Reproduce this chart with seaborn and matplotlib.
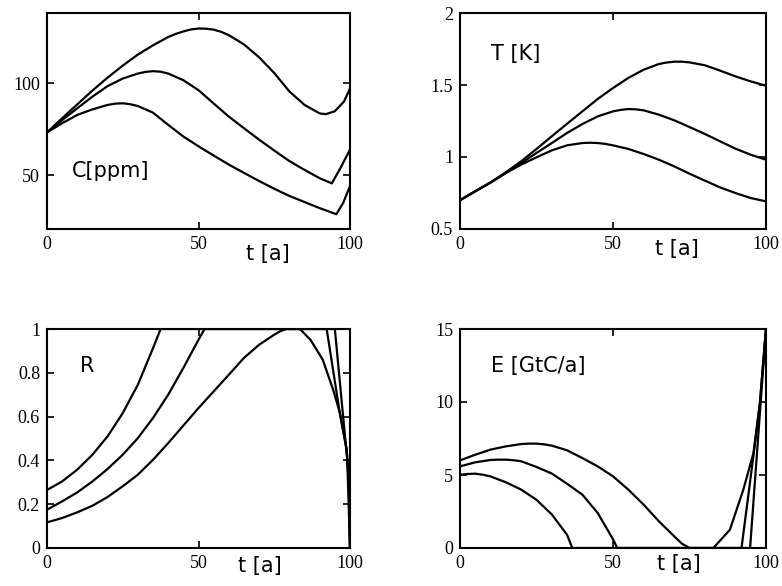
import numpy as np
import pandas as pd
import matplotlib
matplotlib.use("Agg")
import matplotlib.pyplot as plt
import seaborn as sns

# ---- time axis and tick labels ----
x_ticks = [0, 50, 100]
x_label = "t [a]"

# ---- C [ppm] : three scenarios ----
c1_t = [0, 5, 10, 15, 20, 25, 30, 35, 40, 42.5, 45, 47.5, 50, 52.5, 55, 57.5, 60, 65, 70, 75, 80, 85,
        90, 92, 95, 98, 100]
c1_v = [73.3, 81, 88.5, 96, 103, 109.5, 115.5, 120.5, 125, 126.7, 128, 129.1, 129.6, 129.5, 129, 127.8,
        126, 121, 114, 105.5, 95.5, 88.2, 83.6, 83.2, 84.8, 90, 97.1]
c2_t = [0, 5, 10, 15, 20, 25, 30, 32.5, 35, 37.5, 40, 45, 50, 55, 60, 65, 70, 75, 80, 85, 90, 94, 97, 100]
c2_v = [73.3, 80, 86.4, 92.7, 98.4, 102.5, 105.2, 106.1, 106.5, 106.2, 105.2, 101.6, 96.2, 89, 81.9,
        75.6, 69.4, 63.5, 57.8, 53, 48.5, 45.7, 54.5, 64]
c3_t = [0, 5, 10, 15, 20, 22.5, 25, 27.5, 30, 35, 40, 45, 50, 55, 60, 65, 70, 75, 80, 85, 90, 95.5,
        97.8, 100]
c3_v = [73.3, 78.3, 82.8, 85.8, 88.2, 88.9, 89.1, 88.6, 87.6, 84, 77.4, 71.1, 65.8, 60.8, 55.9, 51.4,
        47, 42.8, 38.9, 35.6, 32.3, 29, 35.3, 44.3]
c_ticks = [50, 100]

# ---- T [K] ----
t1_t = [0, 5, 10, 15, 20, 25, 30, 35, 40, 45, 50, 55, 60, 65, 67.5, 70, 72.5, 75, 80, 85, 90, 95, 100]
t1_v = [0.70, 0.762, 0.824, 0.894, 0.970, 1.056, 1.144, 1.231, 1.317, 1.403, 1.479, 1.549, 1.606,
        1.646, 1.656, 1.662, 1.662, 1.657, 1.637, 1.600, 1.560, 1.525, 1.495]
t2_t = [0, 5, 10, 15, 20, 25, 30, 35, 40, 45, 50, 52.5, 55, 57.5, 60, 65, 70, 75, 80, 85, 90, 95, 100]
t2_v = [0.70, 0.762, 0.824, 0.890, 0.958, 1.028, 1.097, 1.167, 1.229, 1.282, 1.317, 1.327, 1.333,
        1.331, 1.324, 1.294, 1.255, 1.208, 1.160, 1.109, 1.058, 1.016, 0.981]
t3_t = [0, 5, 10, 15, 20, 25, 30, 35, 40, 42.5, 45, 47.5, 50, 55, 60, 65, 70, 75, 80, 85, 90, 95, 100]
t3_v = [0.70, 0.762, 0.822, 0.889, 0.947, 0.998, 1.046, 1.081, 1.097, 1.099, 1.097, 1.091, 1.081,
        1.056, 1.021, 0.981, 0.935, 0.884, 0.836, 0.789, 0.750, 0.715, 0.692]
t_ticks = [0.5, 1, 1.5, 2]

# ---- R ----
r1_t = [0, 5, 10, 15, 20, 25, 30, 35, 37.5, 92.3, 96.7, 98.9, 99.6, 100]
r1_v = [0.265, 0.304, 0.358, 0.426, 0.51, 0.616, 0.746, 0.913, 1.0, 1.0, 0.61, 0.45, 0.30, 0.0]
r2_t = [0, 5, 10, 15, 20, 25, 30, 35, 40, 45, 50, 52, 95, 99.1, 100]
r2_v = [0.175, 0.213, 0.254, 0.304, 0.361, 0.426, 0.502, 0.594, 0.700, 0.822, 0.951, 1.0, 1.0, 0.40, 0.0]
r3_t = [0, 5, 10, 15, 20, 25, 30, 35, 40, 45, 50, 55, 60, 65, 70, 75, 77, 79, 83.5, 87, 91, 94.5, 96.7,
        98.9, 99.6, 100]
r3_v = [0.117, 0.137, 0.163, 0.193, 0.233, 0.282, 0.335, 0.403, 0.479, 0.559, 0.639, 0.715, 0.791,
        0.868, 0.928, 0.974, 0.99, 1.0, 1.0, 0.95, 0.86, 0.72, 0.615, 0.45, 0.30, 0.0]
r_ticks = [0, 0.2, 0.4, 0.6, 0.8, 1]
r_tick_labels = ["0", "0.2", "0.4", "0.6", "0.8", "1"]

# ---- E [GtC/a] ----
e1_t = [0, 5, 10, 15, 20, 22.5, 25, 27.5, 30, 35, 40, 45, 50, 55, 60, 65, 70, 72.5, 75, 82.8, 88.2,
        92.6, 95.9, 98, 99.7, 100]
e1_v = [6.0, 6.39, 6.74, 6.96, 7.12, 7.15, 7.15, 7.1, 7.01, 6.69, 6.16, 5.59, 4.91, 4.0, 2.97, 1.83,
        0.80, 0.3, 0.0, 0.0, 1.25, 4.0, 6.5, 9.9, 14.3, 15.0]
e2_t = [0, 5, 10, 12.5, 15, 17.5, 20, 25, 30, 35, 40, 45, 47.5, 50, 51.4, 92, 96, 98, 100]
e2_v = [5.59, 5.87, 6.03, 6.05, 6.05, 6.01, 5.94, 5.55, 5.1, 4.4, 3.65, 2.4, 1.5, 0.6, 0.0, 0.0, 6.5,
        9.9, 15.0]
e3_t = [0, 2.5, 5, 7.5, 10, 15, 20, 25, 30, 35, 36.7, 94.8, 100]
e3_v = [5.02, 5.07, 5.09, 5.02, 4.9, 4.5, 4.0, 3.3, 2.3, 0.9, 0.0, 0.0, 15.0]
e_ticks = [0, 5, 10, 15]

sns.set_style("ticks")
plt.rcParams["font.family"] = ["Liberation Serif", "DejaVu Serif"]
plt.rcParams["axes.linewidth"] = 1.5
plt.rcParams["text.color"] = "black"

fig = plt.figure(figsize=(7.82, 5.86), dpi=100)
W, H = 782, 586


def make_axes(left, top, right, bottom):
    return fig.add_axes([left / W, 1 - bottom / H, (right - left) / W, (bottom - top) / H])


ax_c = make_axes(47, 13, 350, 229)
ax_t = make_axes(460, 13, 766, 229)
ax_r = make_axes(47, 329, 350, 548)
ax_e = make_axes(460, 329, 766, 548)


def draw(ax, curves):
    for tt, vv in curves:
        df = pd.DataFrame({"t": tt, "v": vv})
        sns.lineplot(data=df, x="t", y="v", ax=ax, color="black", linewidth=1.6,
                     sort=False, estimator=None, solid_joinstyle="round")


draw(ax_c, [(c1_t, c1_v), (c2_t, c2_v), (c3_t, c3_v)])
draw(ax_t, [(t1_t, t1_v), (t2_t, t2_v), (t3_t, t3_v)])
draw(ax_r, [(r1_t, r1_v), (r2_t, r2_v), (r3_t, r3_v)])
draw(ax_e, [(e1_t, e1_v), (e2_t, e2_v), (e3_t, e3_v)])

panels = [
    (ax_c, (21, 138), c_ticks, [str(v) for v in c_ticks], "C[ppm]", (0.083, 0.27), (0.728, -0.116)),
    (ax_t, (0.5, 2), t_ticks, ["0.5", "1", "1.5", "2"], "T [K]", (0.10, 0.81), (0.709, -0.093)),
    (ax_r, (0, 1), r_ticks, r_tick_labels, "R", (0.109, 0.833), (0.703, -0.08)),
    (ax_e, (0, 15), e_ticks, [str(v) for v in e_ticks], "E [GtC/a]", (0.10, 0.829), (0.714, -0.075)),
]

for ax, ylim, yt, ytl, name, name_pos, xl_pos in panels:
    ax.set_xlim(0, 100)
    ax.set_ylim(*ylim)
    ax.set_xticks(x_ticks)
    ax.set_xticklabels([str(v) for v in x_ticks])
    ax.set_yticks(yt)
    ax.set_yticklabels(ytl)
    ax.set_ylabel("")
    ax.tick_params(direction="in", top=True, right=True, length=5, width=1.2,
                   labelsize=13, pad=5, colors="black")
    for s in ax.spines.values():
        s.set_visible(True)
        s.set_color("black")
        s.set_linewidth(1.5)
    ax.set_xlabel(x_label, fontsize=15, family=["DejaVu Sans"], va="center", color="black")
    ax.xaxis.set_label_coords(*xl_pos)
    ax.text(name_pos[0], name_pos[1], name, transform=ax.transAxes, fontsize=15,
            family=["DejaVu Sans"], ha="left", va="center", color="black")

fig.savefig("out.png", dpi=100, facecolor="white")
